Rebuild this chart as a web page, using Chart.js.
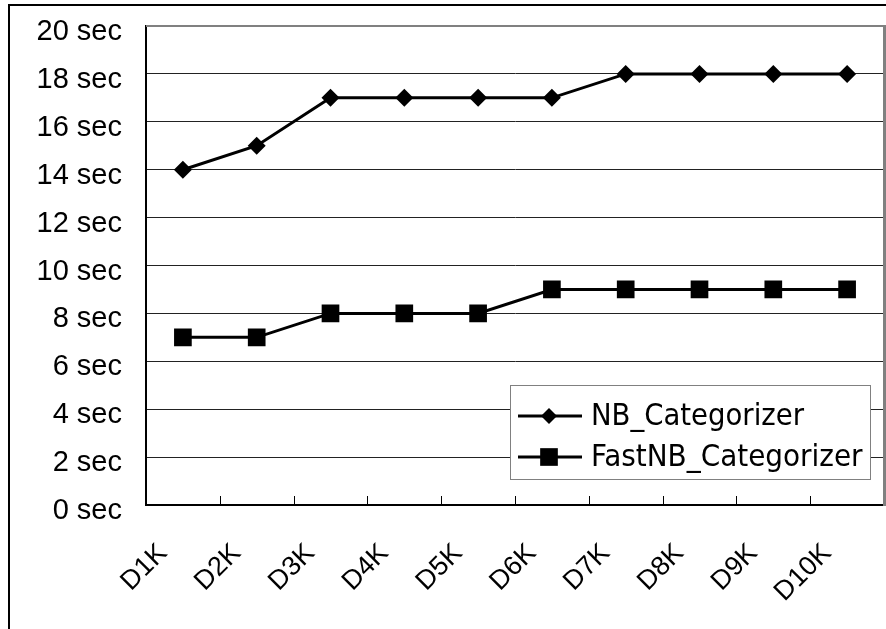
<!DOCTYPE html>
<html>
<head>
<meta charset="utf-8">
<script src="https://cdn.jsdelivr.net/npm/chart.js@4/dist/chart.umd.min.js"></script>
<style>
  body { margin: 0; background: #fff; }
  canvas { display: block; }
</style>
</head>
<body>
<canvas id="timeChart" width="886" height="629"></canvas>
<script>
// categories and times (seconds)
const categories = ['D1K', 'D2K', 'D3K', 'D4K', 'D5K', 'D6K', 'D7K', 'D8K', 'D9K', 'D10K'];
const nbTimes = [14, 15, 17, 17, 17, 17, 18, 18, 18, 18];
const fastNbTimes = [7, 7, 8, 8, 8, 9, 9, 9, 9, 9];
const yMax = 20;
const yStep = 2;

const tickFont = "'Liberation Sans', Arial, sans-serif";

// frame, x ticks/labels and inside legend
const decorations = {
  id: 'decorations',
  beforeDraw(chart) {
    const ctx = chart.ctx;
    ctx.save();
    ctx.fillStyle = '#fff';
    ctx.fillRect(0, 0, chart.width, chart.height);
    ctx.strokeStyle = '#000';
    ctx.lineWidth = 2;
    ctx.beginPath();
    ctx.moveTo(9, chart.height);
    ctx.lineTo(9, 5);
    ctx.lineTo(chart.width, 5);
    ctx.stroke();
    ctx.restore();
  },
  afterDraw(chart) {
    const ctx = chart.ctx;
    const area = chart.chartArea;
    const x = chart.scales.x;
    ctx.save();

    // gray top and right border of the plot
    ctx.strokeStyle = '#808080';
    ctx.lineWidth = 2;
    ctx.beginPath();
    ctx.moveTo(area.left, area.top);
    ctx.lineTo(area.right, area.top);
    ctx.stroke();
    ctx.lineWidth = 3;
    ctx.beginPath();
    ctx.moveTo(area.right + 0.5, area.top - 1);
    ctx.lineTo(area.right + 0.5, area.bottom + 1);
    ctx.stroke();

    // small tick marks between categories
    ctx.strokeStyle = '#000';
    ctx.lineWidth = 1;
    for (let i = 0; i < categories.length - 1; i++) {
      const bx = Math.round((x.getPixelForValue(i) + x.getPixelForValue(i + 1)) / 2) + 0.5;
      ctx.beginPath();
      ctx.moveTo(bx, area.bottom);
      ctx.lineTo(bx, area.bottom - 9);
      ctx.stroke();
    }

    // rotated category labels
    ctx.fillStyle = '#000';
    ctx.font = '27px ' + tickFont;
    ctx.textAlign = 'right';
    ctx.textBaseline = 'middle';
    categories.forEach((c, i) => {
      const px = x.getPixelForValue(i) - 20;
      const py = area.bottom + 44;
      ctx.save();
      ctx.translate(px, py);
      ctx.rotate(-Math.PI / 4);
      ctx.fillText(c, 0, 0);
      ctx.restore();
    });

    // legend box
    const lx = area.right - 374, ly = 385, lw = 360, lh = 94;
    ctx.fillStyle = '#fff';
    ctx.fillRect(lx, ly, lw, lh);
    ctx.strokeStyle = '#808080';
    ctx.lineWidth = 1;
    ctx.strokeRect(lx + 0.5, ly + 0.5, lw, lh);

    const rows = [ly + 31, ly + 72];
    const widths = [213, 278];
    chart.data.datasets.forEach((ds, i) => {
      const ry = rows[i];
      ctx.strokeStyle = '#000';
      ctx.lineWidth = 3;
      ctx.beginPath();
      ctx.moveTo(lx + 8, ry);
      ctx.lineTo(lx + 72, ry);
      ctx.stroke();
      ctx.fillStyle = '#000';
      Chart.helpers.drawPoint(ctx, {
        pointStyle: ds.pointStyle,
        radius: i === 0 ? 8 : 12.5,
        rotation: 0,
        borderWidth: 0
      }, lx + 39, ry);
      ctx.fillStyle = '#000';
      ctx.font = "31px 'DejaVu Sans Condensed', 'Liberation Sans Narrow', 'Liberation Sans', sans-serif";
      ctx.textAlign = 'left';
      ctx.textBaseline = 'middle';
      ctx.fillText(ds.label, lx + 81, ry + 1, widths[i]);
    });

    ctx.restore();
  }
};

new Chart(document.getElementById('timeChart'), {
  type: 'line',
  data: {
    labels: categories,
    datasets: [{
      label: 'NB_Categorizer',
      data: nbTimes,
      borderColor: '#000',
      backgroundColor: '#000',
      borderWidth: 3,
      pointStyle: 'rectRot',
      pointRadius: 9,
      pointBorderWidth: 0,
      tension: 0
    }, {
      label: 'FastNB_Categorizer',
      data: fastNbTimes,
      borderColor: '#000',
      backgroundColor: '#000',
      borderWidth: 3,
      pointStyle: 'rect',
      pointRadius: 12.5,
      pointBorderWidth: 0,
      tension: 0
    }]
  },
  options: {
    responsive: false,
    devicePixelRatio: 1,
    animation: false,
    layout: { autoPadding: false, padding: { top: 26, right: 2, left: 0, bottom: 0 } },
    plugins: {
      legend: { display: false },
      tooltip: { enabled: false }
    },
    scales: {
      x: {
        offset: true,
        grid: { display: false },
        border: { color: '#000', width: 2 },
        ticks: { display: false },
        afterFit: scale => {
          scale.height = 124;
          scale.paddingLeft = 0;
          scale.paddingRight = 0;
        }
      },
      y: {
        min: 0,
        max: yMax,
        grid: { color: '#222', lineWidth: 1, drawTicks: false },
        border: { color: '#000', width: 2 },
        ticks: {
          stepSize: yStep,
          padding: 24,
          labelOffset: 6,
          color: '#000',
          font: { family: tickFont, size: 29 },
          callback: v => v + ' sec'
        },
        afterFit: scale => {
          scale.width = 146;
          scale.paddingTop = 0;
          scale.paddingBottom = 0;
        }
      }
    }
  },
  plugins: [decorations]
});
</script>
</body>
</html>
